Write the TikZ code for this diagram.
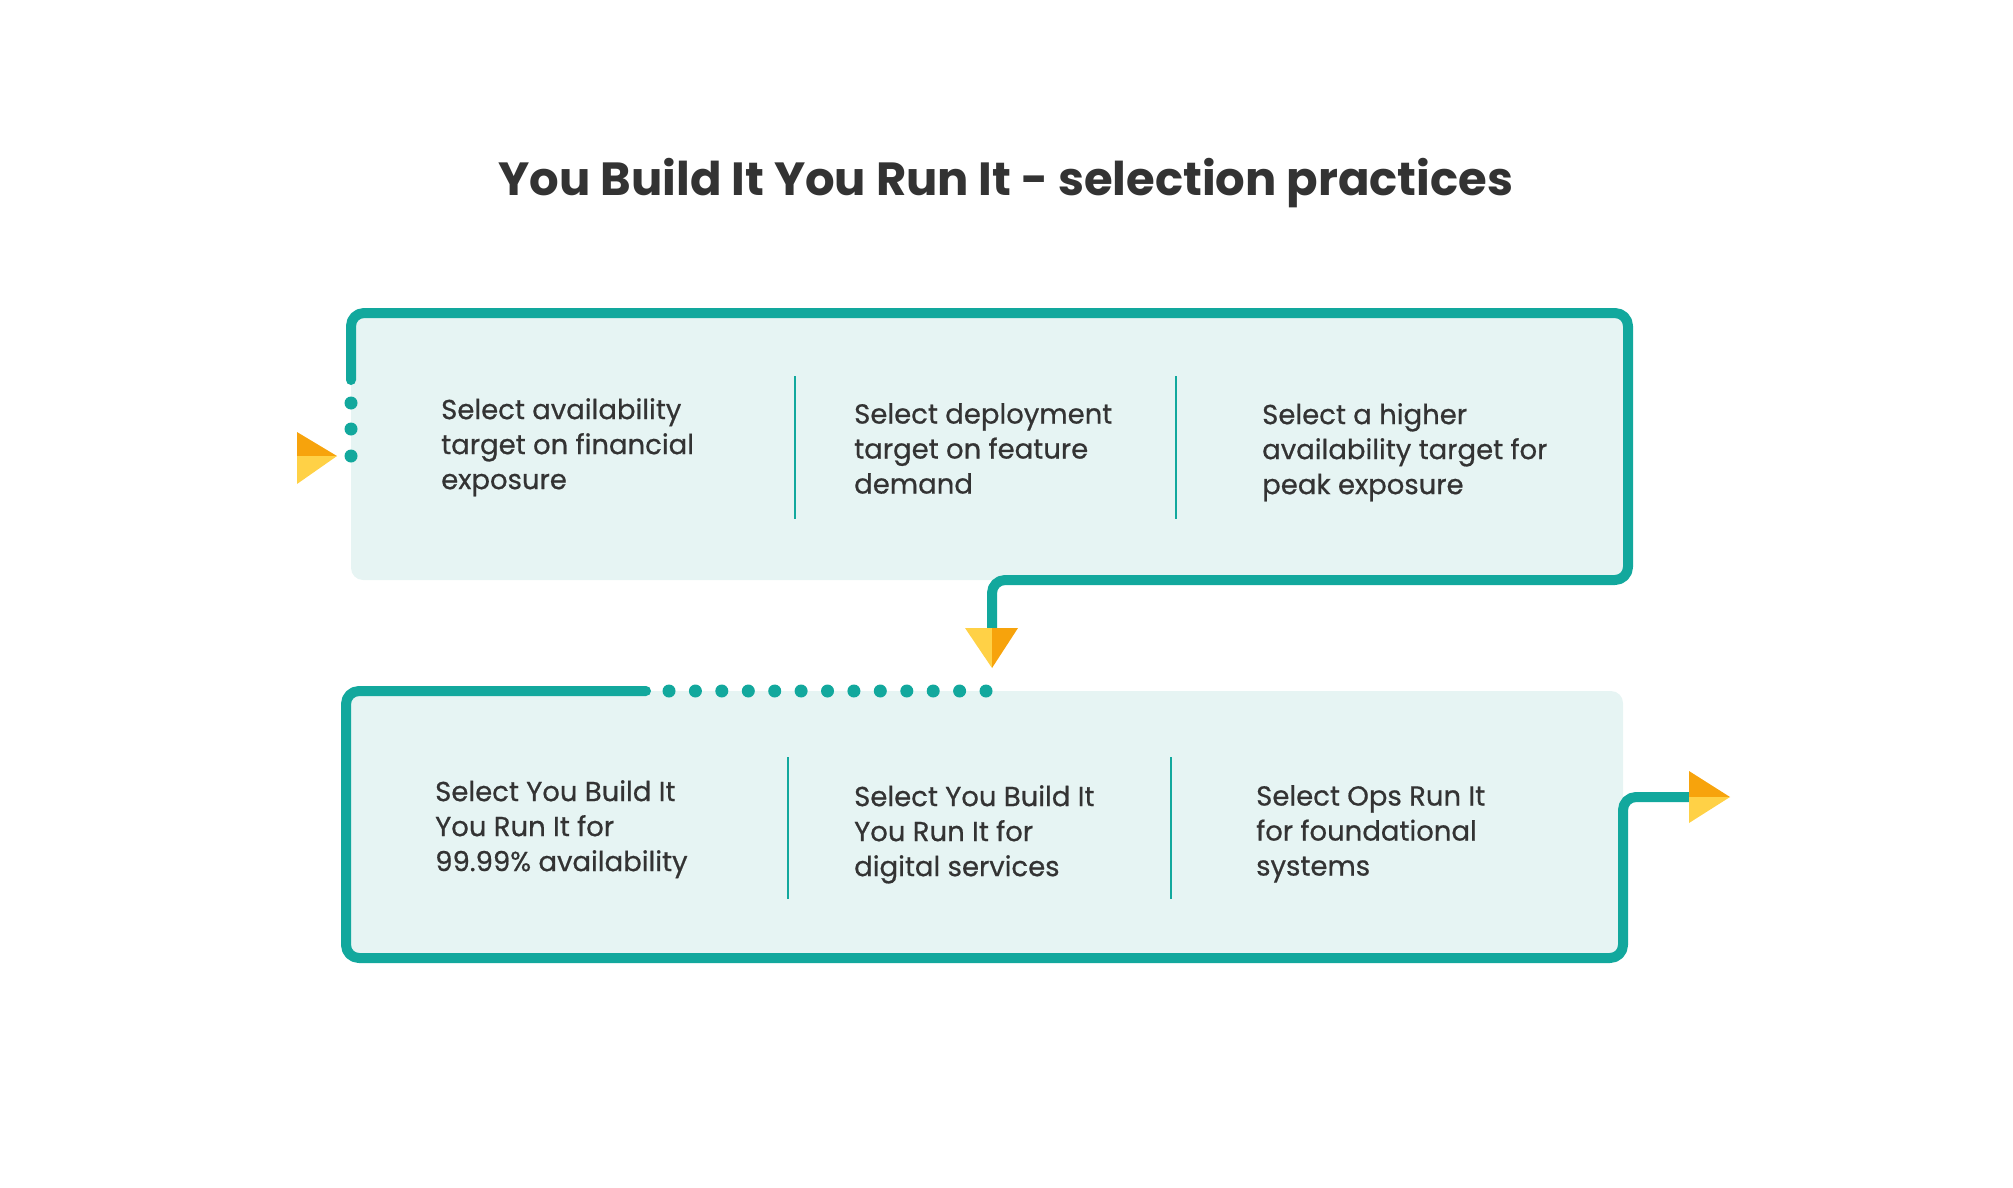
\documentclass[tikz,border=0pt]{standalone}
\usepackage{fontspec}
\setmainfont{Poppins}
\newfontfamily\stepfont{Poppins}[FakeBold=0.6]
\usepackage{tikz}
\definecolor{flowteal}{HTML}{12A89D}
\definecolor{panelfill}{HTML}{E6F4F3}
\definecolor{inkgrey}{HTML}{333333}
\definecolor{arrorange}{HTML}{F7A30C}
\definecolor{arryellow}{HTML}{FFD146}

\begin{document}
\begin{tikzpicture}[x=1pt, y=-1pt,
		flow/.style={draw=flowteal, line width=10pt, line cap=round, line join=round, rounded corners=13pt},
		panel/.style={fill=panelfill, rounded corners=12pt},
		divider/.style={draw=flowteal, line width=1.4pt},
		txt/.style={anchor=north west, inner sep=0pt, align=left, text=inkgrey, font=\stepfont\fontsize{27.5}{35}\selectfont},
		headline/.style={anchor=base, inner sep=0pt, text=inkgrey, font=\fontsize{46.5}{52}\selectfont\bfseries}]
			\useasboundingbox (0,0) rectangle (2013,1188);
			% corners of the two panels
			\coordinate (topstart) at (351, 380);
			\coordinate (topTL) at (351, 313);
			\coordinate (topTR) at (1628, 313);
			\coordinate (topBR) at (1628, 580);
			\coordinate (downbend) at (992, 580);
			\coordinate (downend) at (992, 630);
			\coordinate (botstart) at (646, 691);
			\coordinate (botTL) at (346, 691);
			\coordinate (botBL) at (346, 958);
			\coordinate (botBR) at (1623, 958);
			\coordinate (outbend) at (1623, 797);
			\coordinate (outend) at (1690, 797);
			\node[headline] (title) at (1006, 195) {You Build It You Run It - selection practices};
			\fill[panel] (topTL) rectangle (topBR);
			\fill[panel] (botTL) rectangle (botBR);
			\draw[flow] (topstart) -- (topTL) -- (topTR) -- (topBR) -- (downbend) -- (downend);
			\draw[flow] (botstart) -- (botTL) -- (botBL) -- (botBR) -- (outbend) -- (outend);
			% dotted bits
			\fill [flowteal] (351, 403) circle (6.5pt);
			\fill [flowteal] (351, 429) circle (6.5pt);
			\fill [flowteal] (351, 456) circle (6.5pt);
			\fill [flowteal] (669, 691) circle (6.5pt);
			\fill [flowteal] (695.4, 691) circle (6.5pt);
			\fill [flowteal] (721.8, 691) circle (6.5pt);
			\fill [flowteal] (748.3, 691) circle (6.5pt);
			\fill [flowteal] (774.7, 691) circle (6.5pt);
			\fill [flowteal] (801.1, 691) circle (6.5pt);
			\fill [flowteal] (827.5, 691) circle (6.5pt);
			\fill [flowteal] (853.9, 691) circle (6.5pt);
			\fill [flowteal] (880.3, 691) circle (6.5pt);
			\fill [flowteal] (906.8, 691) circle (6.5pt);
			\fill [flowteal] (933.2, 691) circle (6.5pt);
			\fill [flowteal] (959.6, 691) circle (6.5pt);
			\fill [flowteal] (986, 691) circle (6.5pt);
			% arrow heads
			\fill [arrorange] (297, 432) -- (337, 456) -- (297, 456) -- cycle;
			\fill [arryellow] (297, 456) -- (337, 456) -- (297, 484) -- cycle;
			\fill [arryellow] (965, 628) -- (992, 628) -- (992, 668) -- cycle;
			\fill [arrorange] (992, 628) -- (1018, 628) -- (992, 668) -- cycle;
			\fill [arrorange] (1689, 771) -- (1730, 797) -- (1689, 797) -- cycle;
			\fill [arryellow] (1689, 797) -- (1730, 797) -- (1689, 823) -- cycle;
			% separators
			\draw[divider] (795, 376) -- (795, 519);
			\draw[divider] (1176, 376) -- (1176, 519);
			\draw[divider] (788, 757) -- (788, 899);
			\draw[divider] (1171, 757) -- (1171, 899);
			% texts
			\node[txt] (finexp) at (441, 398) {Select availability\\target on financial\\exposure};
			\node[txt] (feature) at (854, 403) {Select deployment\\target on feature\\demand};
			\node[txt] (peak) at (1262, 403) {Select a higher\\availability target for\\peak exposure};
			\node[txt] (fournines) at (435, 780) {Select You Build It\\You Run It for\\99.99\% availability};
			\node[txt] (digital) at (854, 785) {Select You Build It\\You Run It for\\digital services};
			\node[txt] (opsrun) at (1256, 785) {Select Ops Run It\\for foundational\\systems};
\end{tikzpicture}
\end{document}
